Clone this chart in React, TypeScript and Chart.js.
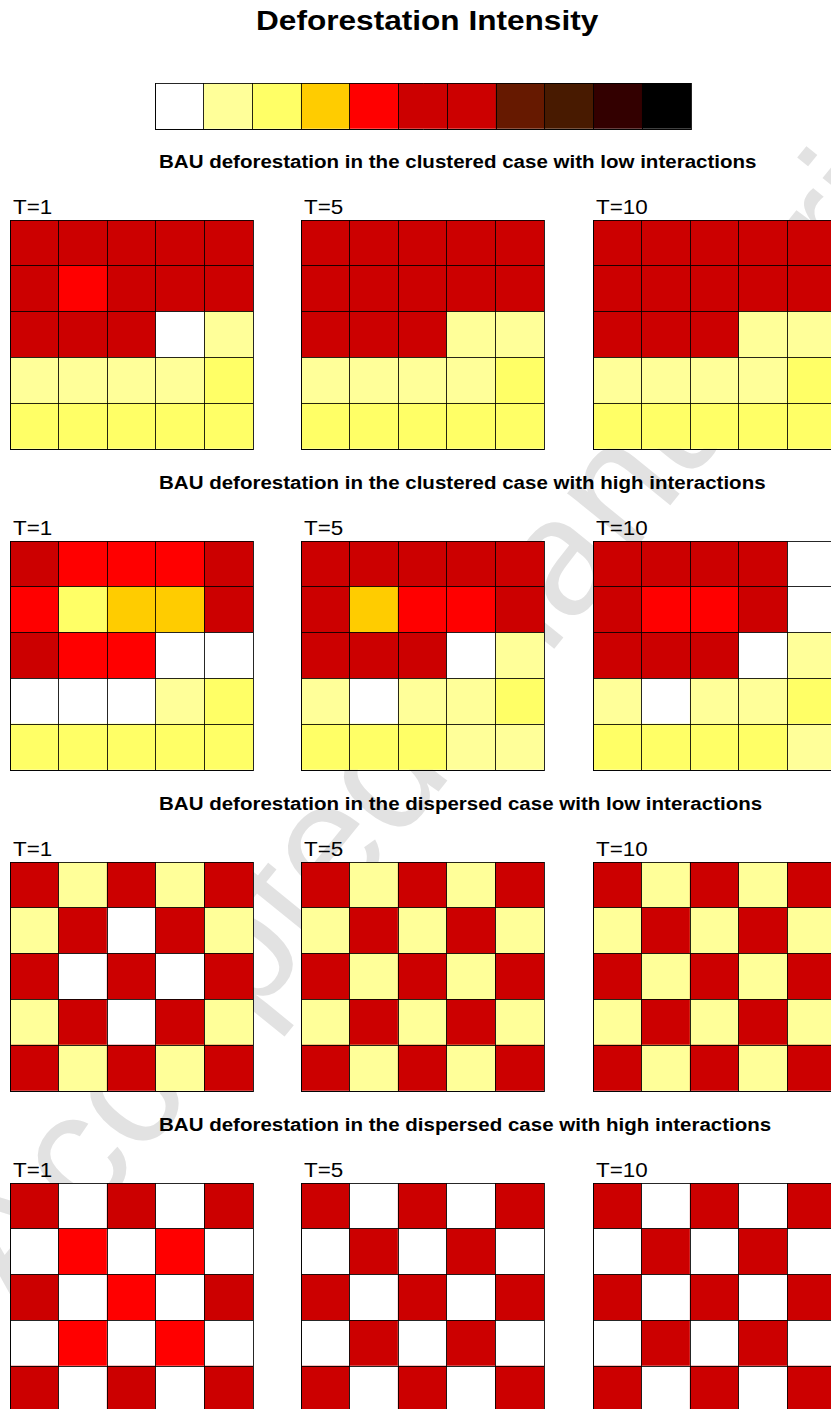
import React, { useEffect, useRef } from "react";
import { Chart, registerables } from "chart.js";

Chart.register(...registerables);

// ---------- data ----------
const chartTitle = "Deforestation Intensity";
const intensityLevels = [0, 1, 2, 3, 4, 5, 6, 7, 8, 9, 10];
const intensityColors = [
  "#FFFFFF",
  "#FFFF99",
  "#FFFF66",
  "#FFCC00",
  "#FF0000",
  "#CC0000",
  "#CC0000",
  "#661900",
  "#481A00",
  "#330000",
  "#000000",
];
const gridColumns = ["c1", "c2", "c3", "c4", "c5"];
const timeLabels = ["T=1", "T=5", "T=10"];
const scenarioTitles = [
  "BAU deforestation in the clustered case with low interactions",
  "BAU deforestation in the clustered case with high interactions",
  "BAU deforestation in the dispersed case with low interactions",
  "BAU deforestation in the dispersed case with high interactions",
];
const watermarkText = "Accepted manuscript";

// intensity level per cell, rows listed top to bottom
const clusteredLowT1 = [
  [5, 5, 5, 5, 5],
  [5, 4, 5, 5, 5],
  [5, 5, 5, 0, 1],
  [1, 1, 1, 1, 2],
  [2, 2, 2, 2, 2],
];
const clusteredLowT5 = [
  [5, 5, 5, 5, 5],
  [5, 5, 5, 5, 5],
  [5, 5, 5, 1, 1],
  [1, 1, 1, 1, 2],
  [2, 2, 2, 2, 2],
];
const clusteredLowT10 = [
  [5, 5, 5, 5, 5],
  [5, 5, 5, 5, 5],
  [5, 5, 5, 1, 1],
  [1, 1, 1, 1, 2],
  [2, 2, 2, 2, 2],
];
const clusteredHighT1 = [
  [5, 4, 4, 4, 5],
  [4, 2, 3, 3, 5],
  [5, 4, 4, 0, 0],
  [0, 0, 0, 1, 2],
  [2, 2, 2, 2, 2],
];
const clusteredHighT5 = [
  [5, 5, 5, 5, 5],
  [5, 3, 4, 4, 5],
  [5, 5, 5, 0, 1],
  [1, 0, 1, 1, 2],
  [2, 2, 2, 1, 1],
];
const clusteredHighT10 = [
  [5, 5, 5, 5, 0],
  [5, 4, 4, 5, 0],
  [5, 5, 5, 0, 1],
  [1, 0, 1, 1, 2],
  [2, 2, 2, 2, 1],
];
const dispersedLowT1 = [
  [5, 1, 5, 1, 5],
  [1, 5, 0, 5, 1],
  [5, 0, 5, 0, 5],
  [1, 5, 0, 5, 1],
  [5, 1, 5, 1, 5],
];
const dispersedLowT5 = [
  [5, 1, 5, 1, 5],
  [1, 5, 1, 5, 1],
  [5, 1, 5, 1, 5],
  [1, 5, 1, 5, 1],
  [5, 1, 5, 1, 5],
];
const dispersedLowT10 = [
  [5, 1, 5, 1, 5],
  [1, 5, 1, 5, 1],
  [5, 1, 5, 1, 5],
  [1, 5, 1, 5, 1],
  [5, 1, 5, 1, 5],
];
const dispersedHighT1 = [
  [5, 0, 5, 0, 5],
  [0, 4, 0, 4, 0],
  [5, 0, 4, 0, 5],
  [0, 4, 0, 4, 0],
  [5, 0, 5, 0, 5],
];
const dispersedHighT5 = [
  [5, 0, 5, 0, 5],
  [0, 5, 0, 5, 0],
  [5, 0, 5, 0, 5],
  [0, 5, 0, 5, 0],
  [5, 0, 5, 0, 5],
];
const dispersedHighT10 = [
  [5, 0, 5, 0, 5],
  [0, 5, 0, 5, 0],
  [5, 0, 5, 0, 5],
  [0, 5, 0, 5, 0],
  [5, 0, 5, 0, 5],
];

const scenarioGrids = [
  [clusteredLowT1, clusteredLowT5, clusteredLowT10],
  [clusteredHighT1, clusteredHighT5, clusteredHighT10],
  [dispersedLowT1, dispersedLowT5, dispersedLowT10],
  [dispersedHighT1, dispersedHighT5, dispersedHighT10],
];

// ---------- layout ----------
const FONT = '"Liberation Sans", Arial, Helvetica, sans-serif';
const LINE = "rgba(0,0,0,0.85)";
const gridLefts = [10, 301, 593];
const gridTop0 = 220;
const rowStep = 321;
const gridW = 243;
const gridH = 229;

type HeatProps = {
  levels: number[][];
  labels: string[];
  left: number;
  top: number;
  width: number;
  height: number;
};

function HeatChart({ levels, labels, left, top, width, height }: HeatProps) {
  const ref = useRef<HTMLCanvasElement | null>(null);
  useEffect(() => {
    if (!ref.current) return;
    const nRows = levels.length;
    const datasets = [];
    for (let r = nRows - 1; r >= 0; r--) {
      datasets.push({
        data: levels[r].map(() => 1),
        backgroundColor: levels[r].map((l) => intensityColors[l]),
        borderWidth: 0,
        barPercentage: 1,
        categoryPercentage: 1,
      });
    }
    const chart = new Chart(ref.current, {
      type: "bar",
      data: { labels, datasets },
      options: {
        animation: false,
        responsive: false,
        events: [],
        layout: { padding: 1 },
        plugins: {
          legend: { display: false },
          tooltip: { enabled: false },
          title: { display: false },
        },
        scales: {
          x: {
            type: "category",
            stacked: true,
            offset: true,
            grid: { offset: true, color: LINE, lineWidth: 1, drawTicks: false, z: 1 },
            border: { display: true, color: LINE, width: 1, z: 1 },
            ticks: { display: false },
          },
          y: {
            type: "linear",
            stacked: true,
            min: 0,
            max: nRows,
            grid: { color: LINE, lineWidth: 1, drawTicks: false, z: 1 },
            border: { display: true, color: LINE, width: 1, z: 1 },
            ticks: { display: false, stepSize: 1 },
          },
        },
      } as any,
    });
    return () => chart.destroy();
  }, [levels, labels, width, height]);
  return (
    <canvas
      ref={ref}
      width={width + 2}
      height={height + 2}
      style={{
        position: "absolute",
        left: left - 1,
        top: top - 1,
        width: width + 2,
        height: height + 2,
      }}
    />
  );
}

function Label({
  text,
  left,
  baseline,
  size,
  bold,
  sx,
}: {
  text: string;
  left: number;
  baseline: number;
  size: number;
  bold?: boolean;
  sx: number;
}) {
  return (
    <div
      style={{
        position: "absolute",
        left,
        top: baseline - 0.8465 * size,
        fontFamily: FONT,
        fontSize: size,
        fontWeight: bold ? 700 : 400,
        lineHeight: `${size}px`,
        whiteSpace: "nowrap",
        color: "#000",
        transform: `scaleX(${sx})`,
        transformOrigin: "0 0",
      }}
    >
      {text}
    </div>
  );
}

export default function App() {
  useEffect(() => {
    document.body.style.margin = "0";
  }, []);
  const legendRow = [intensityLevels];
  const legendLabels = intensityLevels.map((l) => String(l));
  return (
    <div
      style={{
        position: "absolute",
        left: 0,
        top: 0,
        width: 831,
        height: 1409,
        overflow: "hidden",
        background: "#fff",
      }}
    >
      <div
        style={{
          position: "absolute",
          left: 462,
          top: 672,
          fontFamily: FONT,
          fontSize: 166,
          lineHeight: "166px",
          color: "#e2e2e2",
          whiteSpace: "nowrap",
          transform: "translate(-50%, -50%) rotate(-51deg)",
        }}
      >
        {watermarkText}
      </div>

      <Label text={chartTitle} left={256} baseline={31} size={27} bold sx={1.17} />

      <HeatChart levels={legendRow} labels={legendLabels} left={155} top={83} width={536} height={46} />

      {scenarioTitles.map((t, k) => (
        <React.Fragment key={k}>
          <Label text={t} left={159} baseline={168.5 + rowStep * k} size={18} bold sx={1.14} />
          {timeLabels.map((tl, j) => (
            <React.Fragment key={j}>
              <Label text={tl} left={gridLefts[j] + 2.5} baseline={213.5 + rowStep * k} size={20} sx={1.12} />
              <HeatChart
                levels={scenarioGrids[k][j]}
                labels={gridColumns}
                left={gridLefts[j]}
                top={gridTop0 + rowStep * k}
                width={gridW}
                height={gridH}
              />
            </React.Fragment>
          ))}
        </React.Fragment>
      ))}
    </div>
  );
}
